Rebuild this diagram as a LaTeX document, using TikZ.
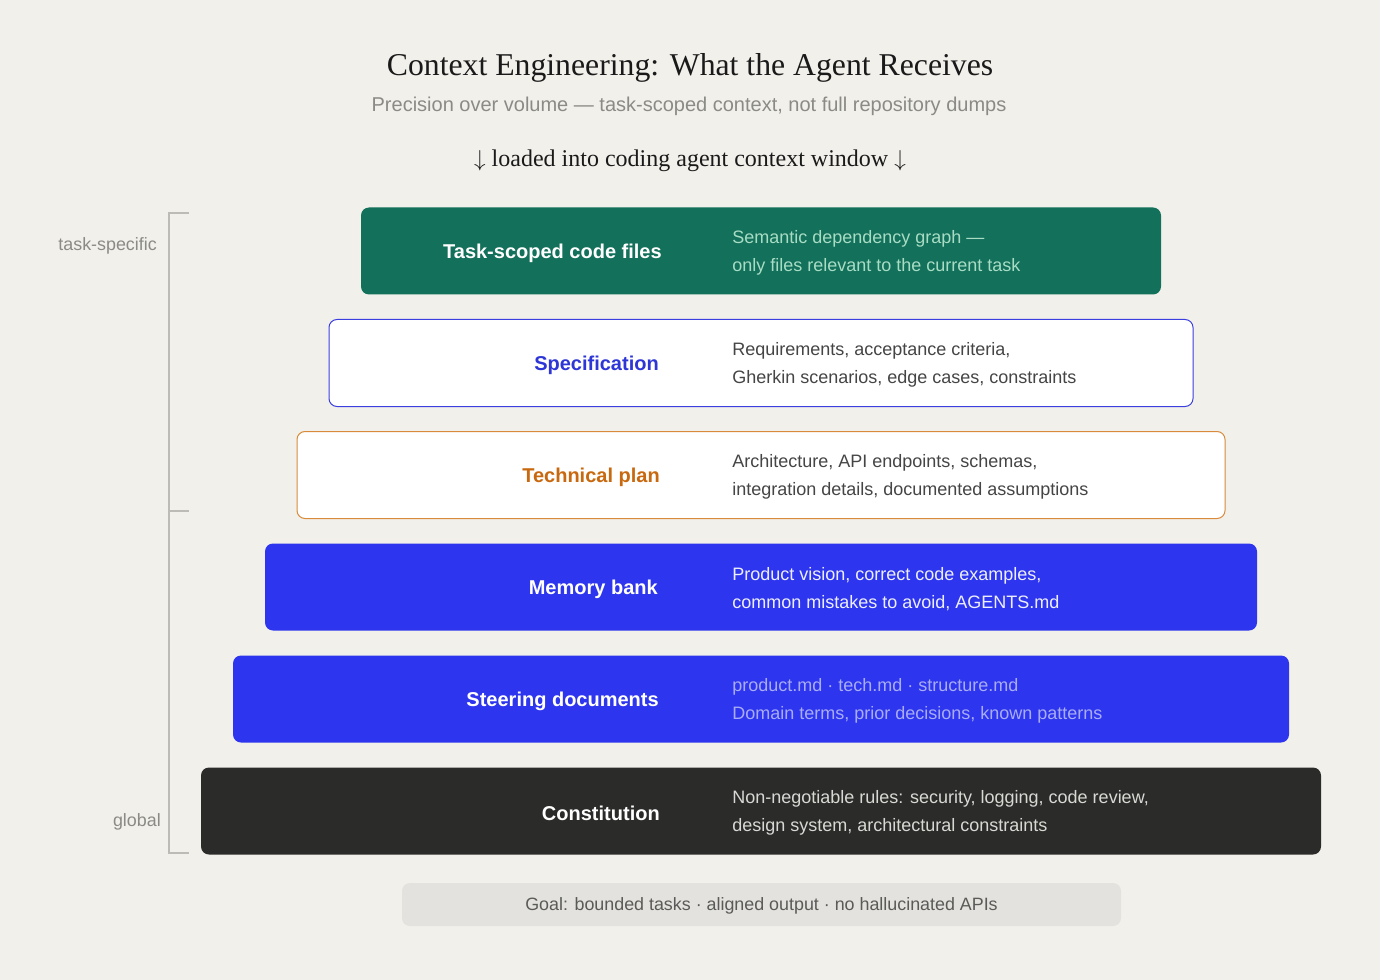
\documentclass[tikz,border=0pt]{standalone}
\usepackage{fontspec}
\setmainfont{Liberation Serif}
\setsansfont{Liberation Sans}
\definecolor{bg}{HTML}{F2F0EB}
\definecolor{grn}{HTML}{13705A}
\definecolor{grntxt}{HTML}{A8DCC4}
\definecolor{blu}{HTML}{2D35EE}
\definecolor{blutxt}{HTML}{A9ACF6}
\definecolor{specb}{HTML}{3B3FE0}
\definecolor{spect}{HTML}{2E36D6}
\definecolor{orb}{HTML}{D98A3A}
\definecolor{ort}{HTML}{C8690F}
\definecolor{drk}{HTML}{2B2B29}
\definecolor{drktxt}{HTML}{D8D8D4}
\definecolor{barc}{HTML}{E3E2DE}
\definecolor{bart}{HTML}{5A5A58}
\definecolor{subg}{HTML}{8A8A86}
\definecolor{brk}{HTML}{BDBBB5}
\definecolor{dtxt}{HTML}{454545}
\definecolor{ttlc}{HTML}{1A1A1A}
\begin{document}
\begin{tikzpicture}[x=0.75pt,y=-0.75pt,
 layer/.style={rounded corners=6pt, minimum height=65.25pt, inner sep=0pt, line width=0.75pt},
 ttl/.style={anchor=east, inner sep=0pt, font=\sffamily\bfseries\fontsize{15}{18}\selectfont},
 dsc/.style={anchor=west, inner sep=0pt, align=left, font=\sffamily\fontsize{13.5}{21}\selectfont},
 side/.style={anchor=east, inner sep=0pt, text=subg, font=\sffamily\fontsize{13.4}{16}\selectfont},
]
\fill[bg] (0,0) rectangle (1380,980);
\useasboundingbox (0,0) rectangle (1380,980);

\node[text=ttlc, font=\fontsize{23.8}{28}\selectfont] (title) at (690,68) {Context Engineering: What the Agent Receives};
\node[text=subg, font=\sffamily\fontsize{15}{18}\selectfont] (sub) at (689,106) {Precision over volume --- task-scoped context, not full repository dumps};
\node[text=ttlc, font=\fontsize{18}{22}\selectfont] (load) at (690,161) {$\downarrow$ loaded into coding agent context window $\downarrow$};

% bracket
\coordinate (bt) at (189,213);
\coordinate (bm) at (189,511);
\coordinate (bb) at (189,853);
\draw[brk, line width=1.1pt] (bt) -- (169,213) -- (169,853) -- (bb);
\draw[brk, line width=1.1pt] (169,511) -- (bm);
\node[side] (ts) at (157,246) {task-specific};
\node[side] (gl) at (161,822) {global};

% layers
\node[layer, fill=grn, minimum width=600pt] (b1) at (761,251) {};
\node[ttl, text=white] (t1) at (662,253) {Task-scoped code files};
\node[dsc, text=grntxt] (d1) at (732,253) {Semantic dependency graph ---\\only files relevant to the current task};

\node[layer, fill=white, draw=specb, minimum width=648pt] (b2) at (761,363) {};
\node[ttl, text=spect] (t2) at (659,365) {Specification};
\node[dsc, text=dtxt] (d2) at (732,365) {Requirements, acceptance criteria,\\Gherkin scenarios, edge cases, constraints};

\node[layer, fill=white, draw=orb, minimum width=696pt] (b3) at (761,475) {};
\node[ttl, text=ort] (t3) at (660,477) {Technical plan};
\node[dsc, text=dtxt] (d3) at (732,477) {Architecture, API endpoints, schemas,\\integration details, documented assumptions};

\node[layer, fill=blu, minimum width=744pt] (b4) at (761,587) {};
\node[ttl, text=white] (t4) at (658,589) {Memory bank};
\node[dsc, text=white!92!blu] (d4) at (732,589) {Product vision, correct code examples,\\common mistakes to avoid, AGENTS.md};

\node[layer, fill=blu, minimum width=792pt] (b5) at (761,699) {};
\node[ttl, text=white] (t5) at (659,701) {Steering documents};
\node[dsc, text=blutxt] (d5) at (732,701) {product.md · tech.md · structure.md\\Domain terms, prior decisions, known patterns};

\node[layer, fill=drk, minimum width=840pt] (b6) at (761,811) {};
\node[ttl, text=white] (t6) at (660,813) {Constitution};
\node[dsc, text=drktxt] (d6) at (732,813) {Non-negotiable rules: security, logging, code review,\\design system, architectural constraints};

% goal bar
\node[rounded corners=6pt, fill=barc, minimum width=539.25pt, minimum height=32.25pt, inner sep=0pt] (goal) at (761.5,904.5) {};
\node[text=bart, font=\sffamily\fontsize{13.4}{16}\selectfont] (goalt) at (761.5,906) {Goal: bounded tasks · aligned output · no hallucinated APIs};
\end{tikzpicture}
\end{document}
